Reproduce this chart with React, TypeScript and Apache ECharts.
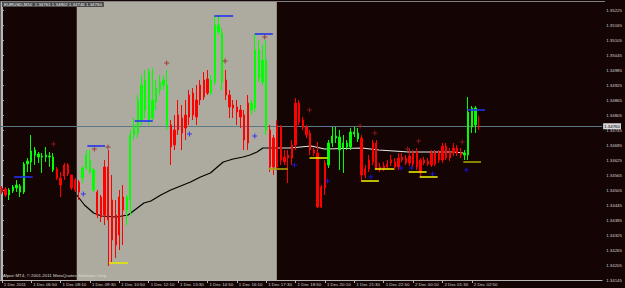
import React, { useEffect, useRef } from 'react';
import * as echarts from 'echarts';

const chartTitle = 'EURUSD,M10  1.34761 1.34802 1.34746 1.34760';
const copyright = 'Alpari MT4, © 2001-2011 MetaQuotes Software Corp.';
const timeLabels = ['1 Dec 2011', '1 Dec 06:50', '1 Dec 08:10', '1 Dec 09:30', '1 Dec 10:50', '1 Dec 12:10', '1 Dec 13:30', '1 Dec 14:50', '1 Dec 16:10', '1 Dec 17:30', '1 Dec 18:50', '1 Dec 20:10', '1 Dec 21:30', '1 Dec 22:50', '2 Dec 00:10', '2 Dec 01:30', '2 Dec 02:50'];
const priceTicks = [1.34145, 1.34205, 1.34265, 1.34325, 1.34385, 1.34445, 1.34505, 1.34565, 1.34625, 1.34685, 1.34745, 1.34805, 1.34865, 1.34925, 1.34985, 1.35045, 1.35105, 1.35165, 1.35225];
const lastPrice = 1.3476;

// [open, close, low, high]
const candles = [
  [1.34513, 1.34497, 1.34489, 1.34521], [1.34509, 1.34485, 1.34477, 1.34517], [1.34485, 1.34505, 1.34465, 1.34513], [1.34501, 1.34517, 1.34493, 1.34525],
  [1.34513, 1.34525, 1.34497, 1.34545], [1.34497, 1.34521, 1.34477, 1.34529], [1.34497, 1.34609, 1.34489, 1.34617], [1.34609, 1.34621, 1.34577, 1.34633],
  [1.34617, 1.34661, 1.34577, 1.34725], [1.34645, 1.34665, 1.34605, 1.34677], [1.34637, 1.34649, 1.34613, 1.34657], [1.34637, 1.34641, 1.34573, 1.34653],
  [1.34637, 1.34645, 1.34617, 1.34677], [1.34637, 1.34641, 1.34597, 1.34657], [1.34585, 1.34637, 1.34577, 1.34653], [1.34589, 1.34553, 1.34545, 1.34597],
  [1.34553, 1.34525, 1.34477, 1.34577], [1.34605, 1.34561, 1.34545, 1.34613], [1.34605, 1.34569, 1.34561, 1.34613], [1.34565, 1.34513, 1.34505, 1.34565],
  [1.34545, 1.34505, 1.34497, 1.34553], [1.34537, 1.34497, 1.34465, 1.34545], [1.34553, 1.34593, 1.34533, 1.34601], [1.34593, 1.34645, 1.34585, 1.34665],
  [1.34577, 1.34625, 1.34569, 1.34665], [1.34505, 1.34585, 1.34497, 1.34593], [1.34497, 1.34405, 1.34393, 1.34505], [1.34477, 1.34397, 1.34377, 1.34485],
  [1.34597, 1.34405, 1.34365, 1.34625], [1.34597, 1.34385, 1.34201, 1.34665], [1.34465, 1.34305, 1.34217, 1.34565], [1.34405, 1.34285, 1.34233, 1.34465],
  [1.34477, 1.34325, 1.34265, 1.34505], [1.34477, 1.34425, 1.34285, 1.34525], [1.34425, 1.34477, 1.34365, 1.34485], [1.34465, 1.34725, 1.34405, 1.34745],
  [1.34725, 1.34765, 1.34705, 1.34793], [1.34733, 1.34865, 1.34713, 1.34885], [1.34785, 1.34925, 1.34765, 1.34965], [1.34825, 1.34945, 1.34793, 1.34985],
  [1.34785, 1.34977, 1.34765, 1.34993], [1.34793, 1.34865, 1.34785, 1.34993], [1.34857, 1.34913, 1.34825, 1.34945], [1.34905, 1.34937, 1.34885, 1.34965],
  [1.34925, 1.34945, 1.34905, 1.34961], [1.34765, 1.34925, 1.34745, 1.34985], [1.34765, 1.34677, 1.34605, 1.34785], [1.34745, 1.34685, 1.34665, 1.34805],
  [1.34805, 1.34745, 1.34725, 1.34865], [1.34793, 1.34733, 1.34665, 1.34845], [1.34805, 1.34753, 1.34705, 1.34865], [1.34885, 1.34797, 1.34765, 1.34905],
  [1.34893, 1.34805, 1.34785, 1.34913], [1.34865, 1.34797, 1.34765, 1.34925], [1.34925, 1.34865, 1.34845, 1.34945], [1.34945, 1.34877, 1.34865, 1.34977],
  [1.34949, 1.34893, 1.34885, 1.34985], [1.34893, 1.34945, 1.34885, 1.34965], [1.34937, 1.35165, 1.34925, 1.35201], [1.35137, 1.35165, 1.35125, 1.35201],
  [1.34937, 1.35133, 1.34905, 1.35153], [1.34945, 1.34885, 1.34865, 1.34985], [1.34885, 1.34837, 1.34793, 1.34905], [1.34845, 1.34833, 1.34793, 1.34865],
  [1.34837, 1.34817, 1.34765, 1.34865], [1.34825, 1.34797, 1.34753, 1.34845], [1.34805, 1.34705, 1.34665, 1.34825], [1.34853, 1.34693, 1.34665, 1.34885],
  [1.34825, 1.34853, 1.34805, 1.34865], [1.34833, 1.35065, 1.34817, 1.35129], [1.34953, 1.35065, 1.34937, 1.35105], [1.34937, 1.35025, 1.34925, 1.35085],
  [1.34745, 1.35025, 1.34725, 1.35105], [1.34745, 1.34597, 1.34577, 1.34765], [1.34713, 1.34597, 1.34565, 1.34725], [1.34765, 1.34597, 1.34585, 1.34785],
  [1.34757, 1.34625, 1.34605, 1.34765], [1.34637, 1.34617, 1.34605, 1.34665], [1.34645, 1.34633, 1.34533, 1.34665], [1.34685, 1.34633, 1.34605, 1.34705],
  [1.34853, 1.34685, 1.34665, 1.34873], [1.34853, 1.34777, 1.34765, 1.34865], [1.34785, 1.34757, 1.34745, 1.34797], [1.34757, 1.34725, 1.34713, 1.34765],
  [1.34733, 1.34665, 1.34645, 1.34745], [1.34665, 1.34653, 1.34641, 1.34673], [1.34653, 1.34437, 1.34433, 1.34697], [1.34517, 1.34437, 1.34433, 1.34525],
  [1.34613, 1.34513, 1.34485, 1.34625], [1.34605, 1.34693, 1.34593, 1.34705], [1.34693, 1.34721, 1.34677, 1.34757], [1.34713, 1.34721, 1.34693, 1.34757],
  [1.34665, 1.34717, 1.34585, 1.34745], [1.34673, 1.34693, 1.34573, 1.34725], [1.34677, 1.34693, 1.34665, 1.34705], [1.34677, 1.34737, 1.34665, 1.34753],
  [1.34729, 1.34737, 1.34717, 1.34757], [1.34709, 1.34733, 1.34697, 1.34753], [1.34713, 1.34565, 1.34537, 1.34725], [1.34589, 1.34565, 1.34553, 1.34605],
  [1.34625, 1.34589, 1.34577, 1.34645], [1.34693, 1.34617, 1.34605, 1.34705], [1.34693, 1.34593, 1.34585, 1.34705], [1.34597, 1.34585, 1.34577, 1.34613],
  [1.34601, 1.34589, 1.34581, 1.34617], [1.34609, 1.34597, 1.34585, 1.34625], [1.34625, 1.34613, 1.34601, 1.34645], [1.34617, 1.34597, 1.34585, 1.34633],
  [1.34633, 1.34597, 1.34585, 1.34653], [1.34637, 1.34625, 1.34617, 1.34653], [1.34633, 1.34613, 1.34605, 1.34645], [1.34641, 1.34613, 1.34601, 1.34673],
  [1.34653, 1.34609, 1.34597, 1.34665], [1.34657, 1.34597, 1.34585, 1.34673], [1.34625, 1.34577, 1.34557, 1.34633], [1.34625, 1.34613, 1.34605, 1.34637],
  [1.34621, 1.34609, 1.34601, 1.34633], [1.34653, 1.34605, 1.34597, 1.34665], [1.34653, 1.34609, 1.34601, 1.34665], [1.34653, 1.34625, 1.34613, 1.34665],
  [1.34681, 1.34625, 1.34613, 1.34693], [1.34681, 1.34633, 1.34625, 1.34693], [1.34657, 1.34633, 1.34621, 1.34673], [1.34673, 1.34653, 1.34641, 1.34693],
  [1.34673, 1.34653, 1.34641, 1.34685], [1.34653, 1.34645, 1.34633, 1.34673], [1.34645, 1.34653, 1.34625, 1.34665], [1.34645, 1.34817, 1.34625, 1.34877],
  [1.34757, 1.34833, 1.34733, 1.34841], [1.34765, 1.34833, 1.34733, 1.34841], [1.34761, 1.3476, 1.34746, 1.34802],
];

// moving average read points [bar index, price]
const maOnSession = [[20.4, 1.34485], [22.5, 1.34445], [25, 1.34413], [27.1, 1.34401], [31.1, 1.34397], [34.4, 1.34405], [38.7, 1.34453], [40.6, 1.34461], [43.3, 1.34485], [46, 1.34505], [48.7, 1.34521], [51.4, 1.34537], [54.1, 1.34557], [56.8, 1.34573], [58.7, 1.34597], [60.3, 1.34617], [63, 1.34629], [65.7, 1.34637], [67.6, 1.34645], [69.5, 1.34657], [71.1, 1.34673], [74.9, 1.34673]];
const maAfter = [[74.9, 1.34673], [78.4, 1.34673], [84.3, 1.34681], [87.9, 1.34669], [98.1, 1.34673], [102.7, 1.34665], [110.8, 1.34657], [118.1, 1.34657], [123, 1.34657], [125.7, 1.34653]];

// session shading [start index, end index]
const session = [20.4, 74.9];

// level segments [start index, end index, price]
const blueLevels = [[3.3, 8.4, 1.34557], [23.3, 28.1, 1.34681], [36.2, 41.1, 1.34781], [57.9, 63, 1.35201], [68.9, 73.8, 1.35129], [126.8, 131.6, 1.34825]];
const yellowLevels = [[29.2, 34.4, 1.34213], [83.8, 88.7, 1.34633], [97.9, 102.7, 1.34541], [101.6, 106.8, 1.34589], [110.8, 115.7, 1.34577], [113.8, 118.7, 1.34557]];
const oliveLevels = [[72.7, 77.9, 1.34589], [125.7, 130.5, 1.34617]];

// fractal-style markers [index, price]
const blueMarks = [[22.2, 1.34489], [51.1, 1.34729], [68.9, 1.34721], [79.7, 1.34605], [88.7, 1.34541], [100.5, 1.34557], [108.7, 1.34593], [111.6, 1.34593], [117.3, 1.34569], [126.5, 1.34585]];
const redMarks = [[14.1, 1.34689], [25.2, 1.34669], [28.9, 1.34677], [44.9, 1.35013], [60.8, 1.35021], [71.6, 1.35117], [83.8, 1.34825], [97.6, 1.34761], [101.6, 1.34733], [110.5, 1.34669], [113.5, 1.34701], [125.4, 1.34697]];

const SLOTS = 164;
const FONT = 'Liberation Sans';
const PLUS = 'path://M2,0H3V2H5V3H3V5H2V3H0V2H2Z';

const segs = (arr: number[][], color: string) =>
  arr.map(([a, b, p]) => [
    { coord: [a, p], lineStyle: { color, width: 1.6, type: 'solid' } },
    { coord: [b, p], lineStyle: { color, width: 1.6, type: 'solid' } },
  ]);

export default function App() {
  const ref = useRef<HTMLDivElement>(null);
  useEffect(() => {
    if (!ref.current) return;
    const chart = echarts.init(ref.current, null, { renderer: 'svg', width: 625, height: 288 });
    const slots = Array.from({ length: SLOTS }, (_, i) => String(i));
    const showTick = (i: number) => i % 8 === 0 && i / 8 < timeLabels.length;
    const option: any = {
      animation: false,
      backgroundColor: '#140404',
      title: {
        text: chartTitle, left: 2, top: 1, padding: [1, 2], backgroundColor: '#4a4a4a',
        textStyle: { color: '#f2f2f2', fontSize: 4.4, fontWeight: 'normal', fontFamily: FONT },
      },
      graphic: [
        { type: 'text', left: 3, top: 273, z: 10, style: { text: copyright, fill: '#dcdcdc', fontSize: 4.4, fontFamily: FONT } },
        { type: 'line', z: 10, shape: { x1: 0, y1: 1.5, x2: 605, y2: 1.5 }, style: { stroke: '#808080', lineWidth: 1 } },
        { type: 'line', z: 10, shape: { x1: 0.5, y1: 1, x2: 0.5, y2: 280 }, style: { stroke: '#606060', lineWidth: 1 } },
      ],
      grid: { left: -2, right: 20, top: 2, bottom: 8, containLabel: false },
      xAxis: [
        {
          type: 'category', data: slots, boundaryGap: true,
          axisLine: { show: true, lineStyle: { color: '#b4b4b4', width: 1 } },
          axisTick: { show: true, interval: (i: number) => showTick(i), alignWithLabel: true, length: 3, lineStyle: { color: '#b4b4b4' } },
          axisLabel: {
            interval: (i: number) => showTick(i), align: 'left', margin: 2, padding: [0, 0, 0, 2],
            color: '#d0d0d0', fontSize: 4.4, fontFamily: FONT,
            formatter: (_v: string, i: number) => (showTick(i) ? timeLabels[i / 8] : ''),
          },
          splitLine: { show: false },
        },
        { type: 'value', min: -0.5, max: SLOTS - 0.5, show: false, splitLine: { show: false } },
      ],
      yAxis: {
        type: 'value', position: 'right', min: 1.34145, max: 1.35257,
        axisLine: { show: true, lineStyle: { color: '#b8b8b8', width: 2 } },
        axisTick: { show: true, customValues: priceTicks, length: 2, lineStyle: { color: '#b8b8b8' } },
        axisLabel: { customValues: priceTicks, formatter: (v: number) => v.toFixed(5), margin: 4, color: '#d0d0d0', fontSize: 4.4, fontFamily: FONT },
        splitLine: { show: false },
      },
      series: [
        {
          type: 'line', xAxisIndex: 1, data: maOnSession, symbol: 'none', z: 2,
          lineStyle: { color: '#000000', width: 1.2 },
          markArea: { silent: true, itemStyle: { color: '#adab9f' }, data: [[{ xAxis: session[0] }, { xAxis: session[1] }]] },
        },
        {
          type: 'line', xAxisIndex: 1, data: maAfter, symbol: 'none', z: 2,
          lineStyle: { color: '#e6e6e6', width: 1.2 },
          markLine: { silent: true, symbol: 'none', precision: 5, label: { show: false }, data: [...segs(yellowLevels, '#e8e800'), ...segs(oliveLevels, '#a8a400')] },
        },
        {
          type: 'candlestick', xAxisIndex: 0, data: candles, barWidth: 1.8, z: 3,
          itemStyle: { color: '#00ff00', color0: '#ff0000', borderColor: '#00ff00', borderColor0: '#ff0000', borderWidth: 1 },
        },
        {
          type: 'scatter', xAxisIndex: 1, data: blueMarks, symbol: PLUS, symbolSize: 5, z: 4,
          itemStyle: { color: '#1a1aff' },
          markLine: { silent: true, symbol: 'none', precision: 5, label: { show: false }, data: segs(blueLevels, '#2233ee') },
        },
        {
          type: 'scatter', xAxisIndex: 1, data: redMarks, symbol: PLUS, symbolSize: 5, z: 4,
          itemStyle: { color: '#9a2222' },
          markLine: {
            silent: true, symbol: 'none', z: 1, precision: 5,
            lineStyle: { color: '#5a7888', width: 1, type: 'solid' },
            label: { position: 'end', formatter: lastPrice.toFixed(5), backgroundColor: '#d8d8d8', color: '#000000', fontSize: 4.4, fontFamily: FONT, padding: [1, 1, 1, 1], distance: 1 },
            data: [{ yAxis: lastPrice }],
          },
        },
      ],
    };
    chart.setOption(option);
    return () => chart.dispose();
  }, []);
  return <div ref={ref} style={{ position: 'absolute', left: 0, top: 0, width: 625, height: 288 }} />;
}
